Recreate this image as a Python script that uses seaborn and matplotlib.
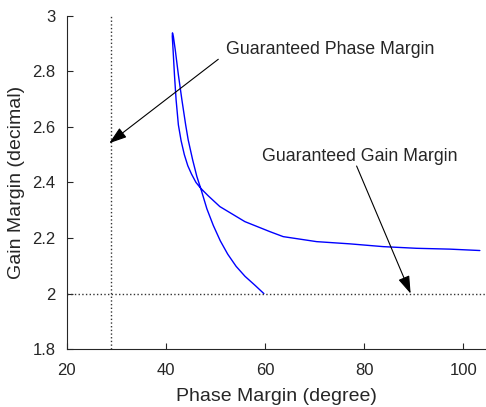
# Phase margin vs gain margin curve, MATLAB-like look
import numpy as np
import pandas as pd
import matplotlib
matplotlib.use('Agg')
import matplotlib.pyplot as plt
import seaborn as sns

# Curve: starts at (60, 2), up the steep branch to the peak,
# then back down the flat branch out to the right
phase_margin = [59.8, 58.0, 56.0, 54.2, 52.5, 51.0, 49.6, 48.3, 47.05, 46.28,
                45.43, 44.53, 44.02, 43.26, 42.55, 41.92, 41.54, 41.36,
                41.32, 41.48, 41.76, 42.09, 42.55, 43.1, 43.75, 44.45, 45.2, 46.1,
                47.05, 48.56, 50.92, 55.96, 61.0, 63.69, 70.42, 77.14, 83.86, 90.59,
                97.31, 103.36]
gain_margin = [2.0, 2.03, 2.062, 2.098, 2.142, 2.19, 2.245, 2.305, 2.379, 2.421,
               2.481, 2.553, 2.607, 2.697, 2.787, 2.877, 2.925, 2.938,
               2.925, 2.877, 2.787, 2.697, 2.607, 2.55, 2.50, 2.46, 2.43, 2.40,
               2.379, 2.352, 2.313, 2.259, 2.223, 2.205, 2.187, 2.179, 2.169, 2.163,
               2.160, 2.155]

guaranteed_pm = 28.9
guaranteed_gm = 2.0

x_ticks = [20, 40, 60, 80, 100]
y_ticks = [1.8, 2.0, 2.2, 2.4, 2.6, 2.8, 3.0]
y_tick_labels = ['1.8', '2', '2.2', '2.4', '2.6', '2.8', '3']

df = pd.DataFrame({'Phase Margin': phase_margin, 'Gain Margin': gain_margin})

sns.set_theme(style='ticks')
plt.rcParams['font.family'] = ['Liberation Sans', 'DejaVu Sans']
plt.rcParams['xtick.direction'] = 'in'
plt.rcParams['ytick.direction'] = 'in'

fig = plt.figure(figsize=(4.86, 4.07), dpi=100)
ax = fig.add_axes([0.137, 0.142, 0.863, 0.8196])

# raw points in drawing order, no aggregation
sns.lineplot(data=df, x='Phase Margin', y='Gain Margin', sort=False, estimator=None,
             color='#0000ff', linewidth=1.0, ax=ax)

# guaranteed margins (dotted)
ax.axvline(guaranteed_pm, color='#333333', linestyle=':', linewidth=1.0)
ax.axhline(guaranteed_gm, color='#333333', linestyle=':', linewidth=1.0)

arrow = dict(arrowstyle='-|>,head_length=0.9,head_width=0.3', color='black',
             lw=0.8, shrinkA=0, shrinkB=0)
ax.annotate('', xy=(28.6, 2.541), xytext=(50.6, 2.843), arrowprops=arrow)
ax.text(52.1, 2.879, 'Guaranteed Phase Margin', ha='left', va='center', fontsize=12.8)
ax.annotate('', xy=(89.4, 2.0), xytext=(78.5, 2.459), arrowprops=arrow)
ax.text(79.1, 2.495, 'Guaranteed Gain Margin', ha='center', va='center', fontsize=12.8)

ax.set_xlim(20, 104.6)
ax.set_ylim(1.8, 3.0)
ax.set_xticks(x_ticks)
ax.set_yticks(y_ticks)
ax.set_yticklabels(y_tick_labels)
ax.tick_params(labelsize=12, length=4, width=0.8, colors='#262626', pad=8)
ax.tick_params(axis='x', pad=10)
ax.set_xlabel('Phase Margin (degree)', fontsize=14, labelpad=7)
ax.set_ylabel('Gain Margin (decimal)', fontsize=14, labelpad=5)
for s in ['left', 'bottom']:
    ax.spines[s].set_color('#262626')
    ax.spines[s].set_linewidth(0.8)
sns.despine(ax=ax)

fig.savefig('out.png', dpi=100)
